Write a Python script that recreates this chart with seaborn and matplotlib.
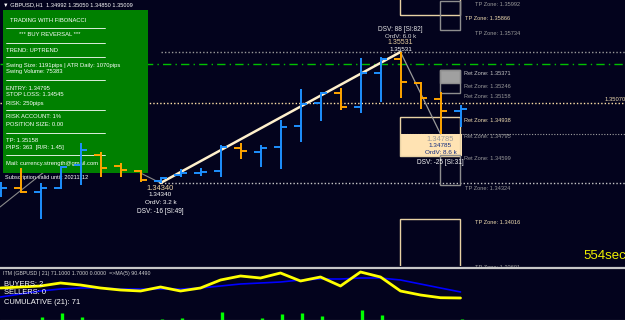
import numpy as np
import pandas as pd
import seaborn as sns
import matplotlib
matplotlib.use("Agg")
import matplotlib.pyplot as plt
import matplotlib.transforms as mtransforms
from matplotlib.patches import Rectangle
from matplotlib.lines import Line2D

# GBPUSD H1 bars
bar_idx = list(range(24))
opens = [1.34258, 1.34295, 1.34258, 1.34295, 1.34504, 1.34595, 1.34495, 1.34449,
         1.34358, 1.34413, 1.34431, 1.34449, 1.34658, 1.34622, 1.34667, 1.34858,
         1.35067, 1.35158, 1.35031, 1.35340, 1.35467, 1.35249, 1.35104, 1.34992]
highs = [1.34349, 1.34477, 1.34340, 1.34495, 1.34704, 1.34622, 1.34522, 1.34458,
         1.34395, 1.34467, 1.34477, 1.34686, 1.34704, 1.34686, 1.34913, 1.35195,
         1.35167, 1.35204, 1.35476, 1.35485, 1.35531, 1.35258, 1.35167, 1.35050]
lows = [1.34213, 1.34249, 1.34013, 1.34286, 1.34322, 1.34395, 1.34395, 1.34349,
        1.34340, 1.34395, 1.34404, 1.34395, 1.34558, 1.34486, 1.34467, 1.34713,
        1.34904, 1.35004, 1.34977, 1.35077, 1.35113, 1.35013, 1.34785, 1.34850]
closes = [1.34295, 1.34258, 1.34295, 1.34486, 1.34640, 1.34477, 1.34458, 1.34367,
          1.34386, 1.34431, 1.34440, 1.34667, 1.34631, 1.34658, 1.34849, 1.35058,
          1.35158, 1.35031, 1.35340, 1.35467, 1.35258, 1.35113, 1.34995, 1.35009]

# zigzag swing points
zz_bars = [-0.025, 4, 8]
zz_prices = [1.34122, 1.34704, 1.34340]
swing_bars = [8, 20]
swing_prices = [1.34340, 1.35531]
retrace_bars = [20, 22]
retrace_prices = [1.35531, 1.34785]

# zones: (label, level, x pixel, colour key)
zone_labels = [
    ("TP Zone: 1.35992", 1.35992, 475, "gray"),
    ("TP Zone: 1.35866", 1.35866, 465, "wheat"),
    ("TP Zone: 1.35734", 1.35734, 475, "gray"),
    ("Ret Zone: 1.35371", 1.35371, 464, "light"),
    ("Ret Zone: 1.35246", 1.35246, 464, "gray"),
    ("Ret Zone: 1.35158", 1.35158, 464, "gray"),
    ("Ret Zone: 1.34938", 1.34938, 464, "wheat"),
    ("Ret Zone: 1.34795", 1.34795, 464, "gray"),
    ("Ret Zone: 1.34599", 1.34599, 464, "gray"),
    ("TP Zone: 1.34324", 1.34324, 465, "gray"),
    ("TP Zone: 1.34016", 1.34016, 475, "wheat"),
    ("TP Zone: 1.33601", 1.33601, 475, "gray"),
]

# ITM indicator
itm_values = [103.1, 106.3, 109.5, 119.1, 112.7, 103.1, 96.7, 93.5, 106.3, 93.5, 103.1, 128.7,
              141.5, 135.1, 151.1, 125.5, 138.3, 109.5, 154.3, 138.3, 93.5, 80.7, 72.0, 71.1]
itm_ma = [74.3, 83.9, 93.5, 99.9, 103.1, 103.1, 99.9, 99.9, 99.9, 99.9, 103.1, 109.5,
          115.9, 119.1, 122.3, 128.7, 131.9, 131.9, 135.1, 135.1, 128.7, 115.9, 103.1, 90.4]
itm_hist = [0, 0, 10, 22, 10, 0, 0, 0, 3, 6, 0, 26, 0, 6, 19, 22, 13, 0, 32, 16, 0, 0, 0, 3]

panel_lines = [
    ("TRADING WITH FIBONACCI", 10, 20),
    ("*** BUY REVERSAL ***", 19, 34),
    ("TREND: UPTREND", 6, 51),
    ("Swing Size: 1191pips | ATR Daily: 1070pips", 6, 65),
    ("Swing Volume: 75383", 6, 72),
    ("ENTRY: 1.34795", 6, 88),
    ("STOP LOSS: 1.34545", 6, 95),
    ("RISK: 250pips", 6, 103),
    ("RISK ACCOUNT: 1%", 6, 117),
    ("POSITION SIZE: 0.00", 6, 125),
    ("TP: 1.35158", 6, 140),
    ("PIPS: 363  [R/R: 1.45]", 6, 147),
    ("Mail: currency.strength@gmail.com", 6, 163),
]
panel_seps = [28, 43, 57, 80, 110, 133, 155]

BG = "#03031d"
BLUE = "#1e90ff"
ORANGE = "#ffa500"
WHEAT = "#e8d2a4"
GRAY = "#8e8e8e"
zone_col = {"gray": "#9a9a9a", "wheat": "#f0dcb0", "light": "#c4c4c4"}

sns.set_style("dark", {"axes.facecolor": BG, "figure.facecolor": BG})
plt.rcParams["font.family"] = ["Liberation Sans", "DejaVu Sans"]

df = pd.DataFrame({"bar": bar_idx, "open": opens, "high": highs, "low": lows, "close": closes})
df["col"] = np.where(df["close"] >= df["open"], BLUE, ORANGE)

fig = plt.figure(figsize=(6.25, 3.2), dpi=100)
ax = fig.add_axes([0, 54 / 320, 1, 266 / 320])
ax2 = fig.add_axes([0, 0, 1, 51 / 320])
pix = mtransforms.Affine2D().scale(1 / 625, -1 / 320).translate(0, 1) + fig.transFigure
XL = (-0.025, 31.225)

def off(dy, dx=0):
    return mtransforms.offset_copy(ax.transData, fig=fig, x=dx, y=-dy, units="dots")

# horizontal levels
ax.axhline(1.35422, color="#00c000", lw=1, ls=(0, (6, 3, 1, 3)), zorder=1)
ax.axhline(1.35070, color="#ffe2a8", lw=1, ls=(0, (1, 1.5)), zorder=1)
ax.hlines(1.35531, 8, XL[1], color="#9a9a9a", lw=1, ls=(0, (1, 1.5)), zorder=1)
ax.hlines(1.34340, 8, XL[1], color="#c8c8c8", lw=1, ls=(0, (1, 1.5)), zorder=1)
ax.hlines(1.34785, 20, XL[1], color="#a0a0a0", lw=0.8, ls=(0, (1, 1.5)), zorder=1)
ax.text(30.22, 1.35070, "1.35070", transform=off(-3), color="#f0dcb0", fontsize=4.2,
        va="center", zorder=6)

# zone boxes
ax.add_patch(Rectangle((19.975, 1.35866), 3, 0.006, fill=False, ec=WHEAT, lw=1, zorder=2))
ax.add_patch(Rectangle((21.975, 1.35734), 1, 0.00258, fill=False, ec=GRAY, lw=1, zorder=2))
ax.add_patch(Rectangle((21.975, 1.35246), 1, 0.00125, fc="#a0a0a0", ec=GRAY, lw=1, zorder=2))
ax.add_patch(Rectangle((21.975, 1.35158), 1, 0.00213, fill=False, ec=GRAY, lw=1, zorder=2))
ax.add_patch(Rectangle((19.975, 1.34590), 3.1, 0.00195, fc="#ffe3b3", ec="none", zorder=2))
ax.add_patch(Rectangle((19.975, 1.34590), 3, 0.00348, fill=False, ec=WHEAT, lw=1, zorder=2))
ax.add_patch(Rectangle((21.975, 1.34324), 1, 0.00275, fill=False, ec=GRAY, lw=1, zorder=2))
ax.add_patch(Rectangle((19.975, 1.3300), 3, 0.01016, fill=False, ec=WHEAT, lw=1, zorder=2))
for label, level, xp, ck in zone_labels:
    ax.text(xp / 20 - 0.025, level, label, transform=off(3.5), color=zone_col[ck],
            fontsize=4.1, va="center", zorder=6)

# zigzag lines
sns.lineplot(x=zz_bars, y=zz_prices, ax=ax, color="#8a8a8a", lw=0.8, zorder=2)
sns.lineplot(x=swing_bars, y=swing_prices, ax=ax, color="#fff0cc", lw=1.8, zorder=4)
sns.lineplot(x=retrace_bars, y=retrace_prices, ax=ax, color="#9a9a9a", lw=0.9, zorder=4)

# info panel
ax.add_patch(Rectangle((3, 10), 145, 163, transform=pix, fc="#008000", ec="none", zorder=3))
for s, xp, yp in panel_lines:
    ax.text(xp, yp, s, transform=pix, color="white", fontsize=4.2, va="center", zorder=4)
for yp in panel_seps:
    ax.add_line(Line2D([6, 105], [yp, yp], transform=pix, color="white", lw=0.6, zorder=4))
ax.text(5, 178, "Subscription valid until: 20211112", transform=pix, color="white",
        fontsize=4.1, va="center", zorder=4)
ax.text(3, 5, "\u25bc GBPUSD,H1  1.34992 1.35050 1.34850 1.35009", transform=pix,
        color="white", fontsize=4.1, va="center", zorder=6)

# OHLC bars
ax.vlines(df["bar"], df["low"], df["high"], colors=df["col"], lw=1.4, zorder=5)
ax.hlines(df["open"], df["bar"] - 0.34, df["bar"], colors=df["col"], lw=1.4, zorder=5)
ax.hlines(df["close"], df["bar"], df["bar"] + 0.34, colors=df["col"], lw=1.4, zorder=5)

# swing annotations
def swing_text(b, p, items):
    for s, dy, col, fs in items:
        ax.text(b, p, s, transform=off(dy), color=col, fontsize=fs, ha="center",
                va="center", zorder=7)

swing_text(20, 1.35531, [("DSV: 88 [SI:82]", -23, "#e6e6e6", 4.7),
                         ("OrdV: 6.0 k", -16, "#d8d8d8", 4.5),
                         ("1.35531", -9.5, "#e8cfa0", 5.0),
                         ("1.35531", -3, "white", 4.5)])
swing_text(8, 1.34340, [("1.34340", 5, "#f0d8a8", 5.4),
                        ("1.34340", 11, "white", 4.6),
                        ("OrdV: 3.2 k", 19, "white", 4.6),
                        ("DSV: -16 [SI:49]", 28, "white", 4.7)])
swing_text(22, 1.34785, [("1.34785", 5, "#9a9a9a", 5.4),
                         ("1.34785", 11, "#102a80", 4.6),
                         ("OrdV: 8.6 k", 18, "#102a80", 4.6),
                         ("DSV: -25 [SI:31]", 28, "white", 4.7)])

ax.text(583, 256, "554sec", transform=pix, color="#f0f000", fontsize=9.5, va="center",
        zorder=6)

ax.set_xlim(*XL)
ax.set_ylim(1.335857, 1.360037)
ax.set_axis_off()

# ITM indicator panel
sns.lineplot(x=bar_idx, y=itm_values, ax=ax2, color="#ffff00", lw=2.0, zorder=3)
sns.lineplot(x=bar_idx, y=itm_ma, ax=ax2, color="#0000ff", lw=1.2, zorder=2)
ax2.vlines(np.array(bar_idx) + 0.05, 0, itm_hist, color="#00ff00", lw=2.4, zorder=2)
ax2.set_xlim(*XL)
ax2.set_ylim(0.7, 163.9)
ax2.set_axis_off()

fig.text(3, 274, "ITM (GBPUSD | 21) 71.1000 1.7000 0.0000  =>MA(5) 90.4490", transform=pix,
         color="#d0d0d0", fontsize=3.8, va="center")
fig.text(4, 285, "BUYERS: 2", transform=pix, color="white", fontsize=5.4, va="center")
fig.text(4, 293, "SELLERS: 0", transform=pix, color="white", fontsize=5.4, va="center")
fig.text(4, 302, "CUMULATIVE (21): 71", transform=pix, color="white", fontsize=5.4, va="center")

fig.add_artist(Line2D([0, 625], [267.5, 267.5], transform=pix, color="#c8c8c8", lw=1.6))
fig.add_artist(Line2D([0, 625], [319.5, 319.5], transform=pix, color="#909090", lw=0.8))

fig.savefig("out.png", dpi=100, facecolor=BG)
